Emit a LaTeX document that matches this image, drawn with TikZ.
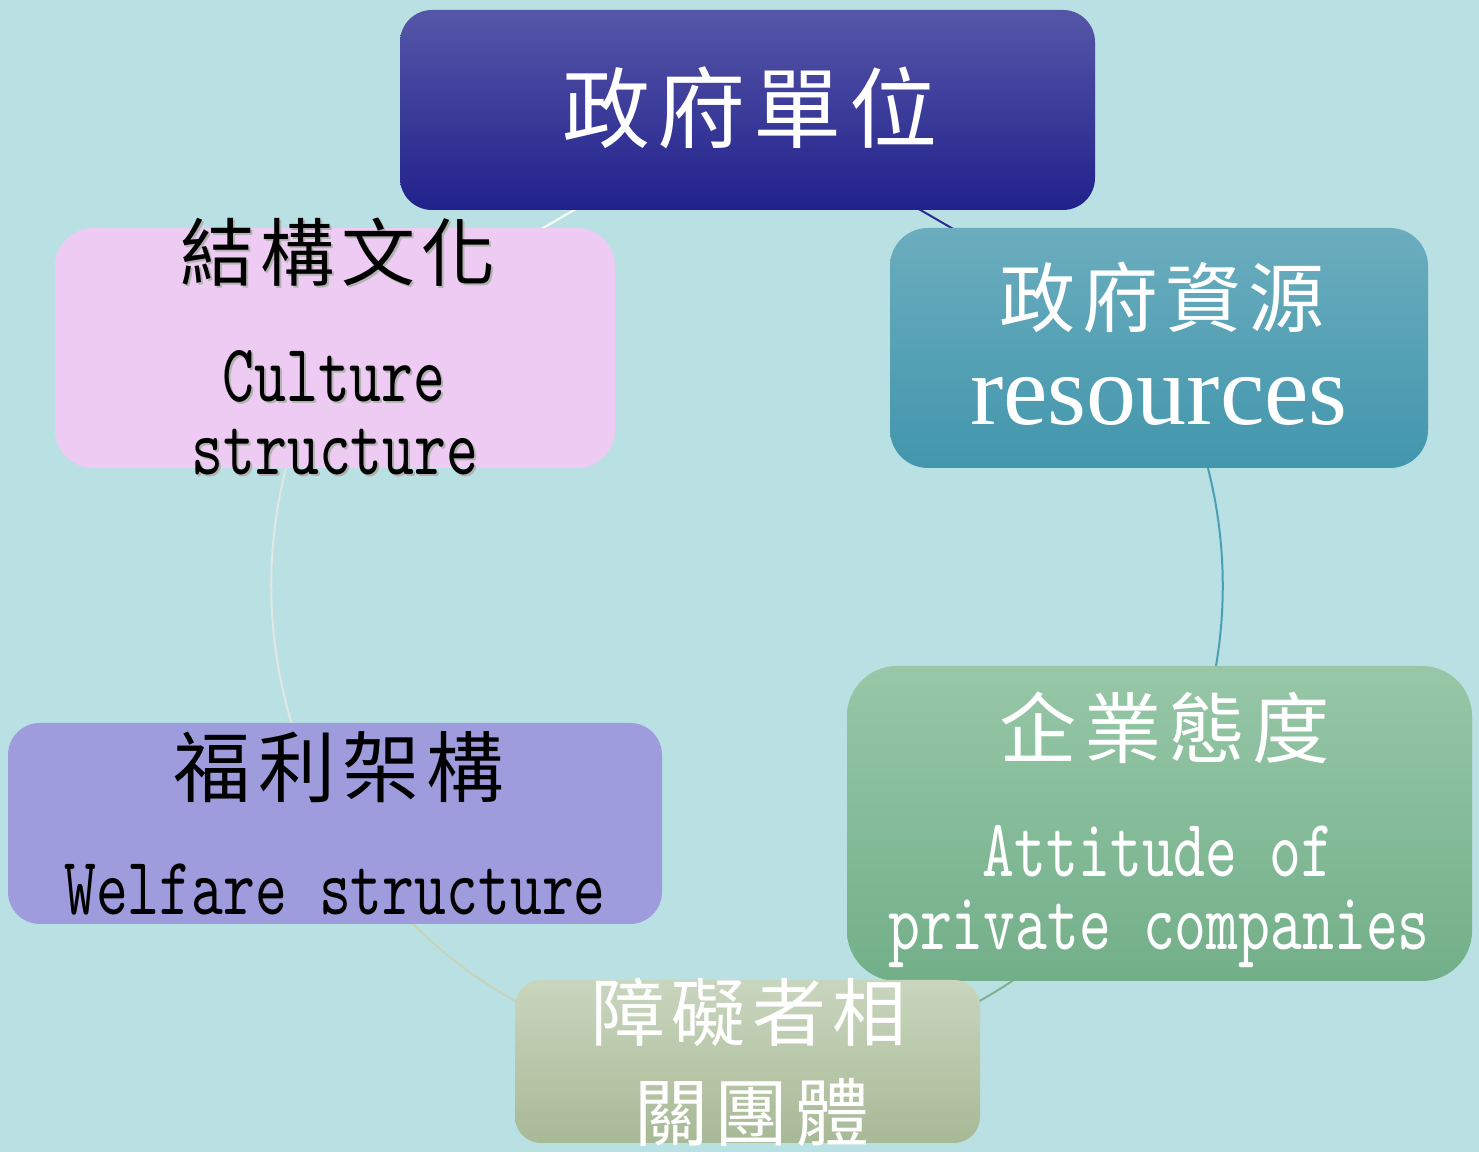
\documentclass[tikz,border=0pt]{standalone}
\usepackage{fontspec}
\setmainfont{Liberation Serif}
\newfontfamily\cjkfam[LetterSpace=9]{Noto Sans CJK TC}
\newfontfamily\monofam{lmmono10-regular}[Extension=.otf, FakeStretch=0.74]
\newcommand\cjkfs[1]{\cjkfam\fontsize{#1}{#1}\selectfont}
\newcommand\monofs[1]{\monofam\fontsize{#1}{#1}\selectfont}
\newcommand\shadowed[1]{\makebox[0pt][l]{\kern1.5pt\raisebox{-1.5pt}{\textcolor{black!30}{#1}}}#1}
\definecolor{bgcol}{HTML}{B9E0E2}
\definecolor{topA}{HTML}{5656A8}
\definecolor{topB}{HTML}{21218C}
\definecolor{resA}{HTML}{6BADBE}
\definecolor{resB}{HTML}{4296AD}
\definecolor{attA}{HTML}{97C7A7}
\definecolor{attB}{HTML}{72AF89}
\definecolor{botA}{HTML}{C9D6BE}
\definecolor{botB}{HTML}{A8B996}
\definecolor{culcol}{HTML}{EECBF2}
\definecolor{welcol}{HTML}{9E9CDD}
\definecolor{lkA}{HTML}{2A2A95}
\definecolor{lkB}{HTML}{4C9EB4}
\definecolor{lkC}{HTML}{7AB48E}
\definecolor{lkD}{HTML}{C6D4BB}
\definecolor{lkE}{HTML}{E3E6E3}
\definecolor{lkF}{HTML}{FFFFFF}
\pgfdeclarelayer{bg}
\pgfsetlayers{bg,main}
\begin{document}
\begin{tikzpicture}[x=0.75pt,y=0.75pt,
  box/.style={rectangle, inner sep=0pt, draw=none},
  link/.style={line width=1.5pt},
  cjktext/.style={inner sep=0pt, anchor=center},
  entext/.style={inner sep=0pt, anchor=base}]
\begin{pgfonlayer}{bg}
\fill[bgcol] (0,0) rectangle (1479,1152);
\end{pgfonlayer}
\useasboundingbox (0,0) rectangle (1479,1152);

% boxes
\node[box, minimum width=521.25pt, minimum height=150pt, rounded corners=24pt,
      top color=topA, bottom color=topB] (top) at (747.5,1042) {};
\node[box, minimum width=403.5pt, minimum height=180pt, rounded corners=28.5pt,
      top color=resA, bottom color=resB] (res) at (1159,804) {};
\node[box, minimum width=468.75pt, minimum height=236.25pt, rounded corners=37.5pt,
      top color=attA, bottom color=attB] (att) at (1159.5,328.5) {};
\node[box, minimum width=348.75pt, minimum height=122.25pt, rounded corners=19.5pt,
      top color=botA, bottom color=botB] (bot) at (747.5,90.5) {};
\node[box, minimum width=490.5pt, minimum height=150.75pt, rounded corners=24pt,
      fill=welcol] (wel) at (335,328.5) {};
\node[box, minimum width=420pt, minimum height=180pt, rounded corners=28.5pt,
      fill=culcol] (cul) at (335,804) {};

% connectors
\begin{pgfonlayer}{bg}
\draw[link, lkA] (top.center) -- (res.center);
\draw[link, lkB] (res.center) arc[start angle=30, end angle=-30, radius=476];
\draw[link, lkC] (att.center) arc[start angle=-30, end angle=-90, radius=476];
\draw[link, lkD] (bot.center) arc[start angle=-90, end angle=-150, radius=476];
\draw[link, lkE] (wel.center) arc[start angle=210, end angle=150, radius=476];
\draw[link, lkF] (cul.center) -- (top.center);
\end{pgfonlayer}

% texts
\node[cjktext, text=white, font=\cjkfs{66pt}] (topT) at (750,1044) {政府單位};

\node[cjktext, text=white, font=\cjkfs{57pt}] (resT) at (1162,855) {政府資源};
\node[entext, text=white, font=\fontsize{75pt}{75pt}\selectfont] (resE) at (1159,727) {resources};

\node[cjktext, text=black, font=\cjkfs{55.5pt}] (culT) at (338,899) {\shadowed{結構文化}};
\node[entext, text=black, font=\monofs{61.5pt}] (culE1) at (334,750) {\shadowed{Culture}};
\node[entext, text=black, font=\monofs{61.5pt}] (culE2) at (335,677) {\shadowed{structure}};

\node[cjktext, text=black, font=\cjkfs{58pt}] (welT) at (339,385) {福利架構};
\node[entext, text=black, font=\monofs{61.5pt}] (welE) at (335,237) {Welfare structure};

\node[cjktext, text=white, font=\cjkfs{58pt}] (attT) at (1165,424) {企業態度};
\node[entext, text=white, font=\monofs{61.5pt}] (attE1) at (1158,275) {Attitude of};
\node[entext, text=white, font=\monofs{61.5pt}] (attE2) at (1159,202) {private companies};

\node[cjktext, text=white, font=\cjkfs{55.5pt}] (botT1) at (749,140) {障礙者相};
\node[cjktext, text=white, font=\cjkfs{55.5pt}] (botT2) at (752,40) {關團體};
\end{tikzpicture}
\end{document}
